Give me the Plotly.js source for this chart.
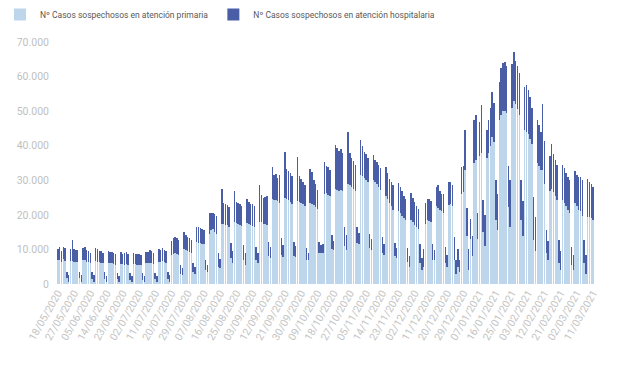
<!DOCTYPE html>
<html>
<head>
<meta charset="utf-8">
<script src="https://cdn.plot.ly/plotly-3.0.1.min.js"></script>
<style>
html,body{margin:0;padding:0;background:#fff;}
#chart{width:620px;height:368px;}
</style>
</head>
<body>
<div id="chart"></div>
<script>
// Daily series, one row per week (Mon..Sun), from 18/05/2020 to 11/03/2021
const primaria = [
  7000,6800,6500,7200,6600,1600,700,
  6700,6600,6500,6400,6300,1600,700,
  6900,6800,6500,6300,6000,1500,700,
  6600,6500,6300,6200,6000,1500,700,
  6200,6100,6000,5800,5600,1400,700,
  5900,5800,5600,5800,5500,1300,600,
  5800,5700,5600,5500,5400,1300,600,
  6100,6000,6200,6000,5800,1400,700,
  6500,6400,6600,6300,6100,1500,700,
  8400,8800,8900,8600,8300,3000,2600,
  10000,9800,9500,9300,9000,3600,3000,
  12200,12000,11800,11700,11500,4000,3500,
  14600,15500,16000,15000,14600,5000,4500,
  17500,17300,17200,17000,16500,7500,6200,
  17800,17600,17400,17200,16800,7000,5500,
  17600,17400,17100,16900,16500,6800,6000,
  18000,17800,17500,17300,17000,8000,7600,
  24500,24300,24200,24000,23500,8500,7900,
  24800,24500,24200,23800,23200,8200,7900,
  24000,23800,23500,23000,22500,7000,7000,
  23500,23000,22800,22300,21800,9000,8900,
  8900,26000,26200,25800,25500,10000,9800,
  27500,27300,27000,27200,26800,11000,9800,
  29000,28500,28000,27500,27000,12000,11700,
  31500,31200,30800,30200,29500,10500,9800,
  30000,29500,28800,28000,27200,9000,8400,
  25500,24500,23500,22500,21500,8000,7500,
  21000,20500,19800,19000,18500,6500,5000,
  18500,18000,17200,16500,15800,6000,4000,
  5000,17500,18500,18300,18000,7000,6900,
  22500,22000,21500,21000,20500,6000,5000,
  22800,23000,22500,7000,3000,5000,3500,
  26000,26500,33000,14000,4000,12900,8000,
  35000,36000,13000,37000,38000,15000,11000,
  36500,38000,40000,42500,41000,18500,15500,
  47500,49000,50000,50000,49500,22300,16600,
  51000,53000,52000,50500,49000,18500,14000,
  44500,44000,43500,42000,40500,12700,9500,
  35000,34000,33000,33000,29000,9000,7000,
  27000,27500,26500,25500,24300,6000,4000,
  24300,23500,22500,21500,20500,5500,4000,
  23300,22500,21500,21000,19600,6000,3000,
  19500,19300,19000,18500
];
const hospitalaria = [
  3000,3800,3100,3600,3700,2000,1900,
  3500,6100,3500,3500,3500,2000,1800,
  3500,3800,3300,3200,3100,1900,1800,
  3700,3500,3200,3300,3000,1900,1700,
  3400,3300,3200,3100,3000,1800,1600,
  3300,3000,3400,3600,3100,1800,1600,
  3100,3000,3100,3200,3000,1800,1600,
  3300,3400,3600,3500,3300,1900,1700,
  3500,3400,3700,3600,3400,2000,1800,
  4100,4400,4800,4600,4500,2500,1900,
  5100,4500,4200,4000,3800,2400,2000,
  4400,4500,4300,4200,4000,2900,2000,
  5800,5000,4600,5200,5000,3900,2700,
  10000,6000,6000,5900,5700,4300,3300,
  9200,6200,6100,6000,5800,4300,3500,
  7000,6300,6000,6100,6200,4000,3000,
  10500,8000,7500,7800,8500,4200,3000,
  9400,7300,7500,6800,8000,4700,3300,
  13400,8700,8500,8300,8000,4000,3000,
  12800,7500,6800,6500,6200,3300,2000,
  9900,9500,7200,6500,5500,3200,2500,
  2800,9400,8000,8000,7500,4100,2500,
  12700,12000,11500,11800,11000,5600,4500,
  15000,9500,8500,8000,7500,4600,3000,
  10100,8800,7500,7500,7000,4100,3200,
  7300,6500,6500,6500,6300,4500,3100,
  8400,7500,7000,7000,7000,4000,3000,
  8100,7500,7200,6500,6000,4000,3000,
  7700,6800,6500,6000,5800,5500,3500,
  5000,6000,6200,6400,6000,4700,3000,
  5500,6500,5500,5000,5500,4800,3500,
  6800,6500,6000,6500,4000,5000,3500,
  7900,7500,11500,8000,6000,5800,6000,
  12500,12800,7500,10000,13700,9300,9000,
  8000,9500,11000,13000,11500,11500,10500,
  11000,13500,14000,14300,13500,11700,13400,
  12500,14000,12500,12500,12000,11500,10000,
  12500,13500,12500,12000,10500,12500,10000,
  12500,12000,11000,19000,12500,6600,5500,
  10000,13000,11000,10500,10000,6700,5500,
  10000,10000,9500,9500,9500,5300,4500,
  9500,9000,9500,10000,10400,6700,5500,
  11000,10200,10000,9500
];
const tickLabels = [
  "18/05/2020","27/05/2020","05/06/2020","14/06/2020","23/06/2020","02/07/2020",
  "11/07/2020","20/07/2020","29/07/2020","07/08/2020","16/08/2020","25/08/2020",
  "03/09/2020","12/09/2020","21/09/2020","30/09/2020","09/10/2020","18/10/2020",
  "27/10/2020","05/11/2020","14/11/2020","23/11/2020","02/12/2020","11/12/2020",
  "20/12/2020","29/12/2020","07/01/2021","16/01/2021","25/01/2021","03/02/2021",
  "12/02/2021","21/02/2021","02/03/2021","11/03/2021"
];
const seriesNames = ["Nº Casos sospechosos en atención primaria","Nº Casos sospechosos en atención hospitalaria"];
const startDate = [2020, 4, 18];

// consecutive day categories
const fechas = [];
for (let i = 0; i < primaria.length; i++) {
  const d = new Date(Date.UTC(startDate[0], startDate[1], startDate[2] + i));
  const dd = String(d.getUTCDate()).padStart(2, "0");
  const mm = String(d.getUTCMonth() + 1).padStart(2, "0");
  fechas.push(dd + "/" + mm + "/" + d.getUTCFullYear());
}

const FONT = "Roboto, 'Liberation Sans', sans-serif";

const traces = [
  {type: "bar", name: seriesNames[0], x: fechas, y: primaria,
   marker: {color: "#bdd6ec"}, hoverinfo: "skip"},
  {type: "bar", name: seriesNames[1], x: fechas, y: hospitalaria,
   marker: {color: "#4a5ea8"}, hoverinfo: "skip"}
];

const layout = {
  width: 620, height: 368,
  margin: {l: 57, r: 26, t: 42, b: 84, pad: 0},
  paper_bgcolor: "#ffffff", plot_bgcolor: "#ffffff",
  barmode: "stack", bargap: 0.2,
  separators: ",.",
  font: {family: FONT, color: "#bfbfbf", size: 11},
  showlegend: true,
  legend: {orientation: "h", xref: "container", yref: "container", x: -0.012, y: 1.0,
           xanchor: "left", yanchor: "top", font: {family: FONT, size: 8.5, color: "#595959"},
           itemwidth: 30, tracegroupgap: 0, traceorder: "normal"},
  xaxis: {type: "category", categoryorder: "array", categoryarray: fechas,
          tickmode: "array", tickvals: tickLabels, ticktext: tickLabels,
          tickangle: -60, showgrid: false, zeroline: false, showline: false,
          ticks: "", tickfont: {family: FONT, size: 10.5, color: "#c4c4c4"},
          range: [-0.5, fechas.length - 0.5], fixedrange: true},
  yaxis: {range: [0, 70000], dtick: 10000, tickformat: ",d", showgrid: false,
          zeroline: false, showline: false, ticks: "", ticklabelstandoff: 7,
          tickfont: {family: FONT, size: 10.5, color: "#bfbfbf"}, fixedrange: true}
};

Plotly.newPlot("chart", traces, layout, {displayModeBar: false, staticPlot: true});
</script>
</body>
</html>
